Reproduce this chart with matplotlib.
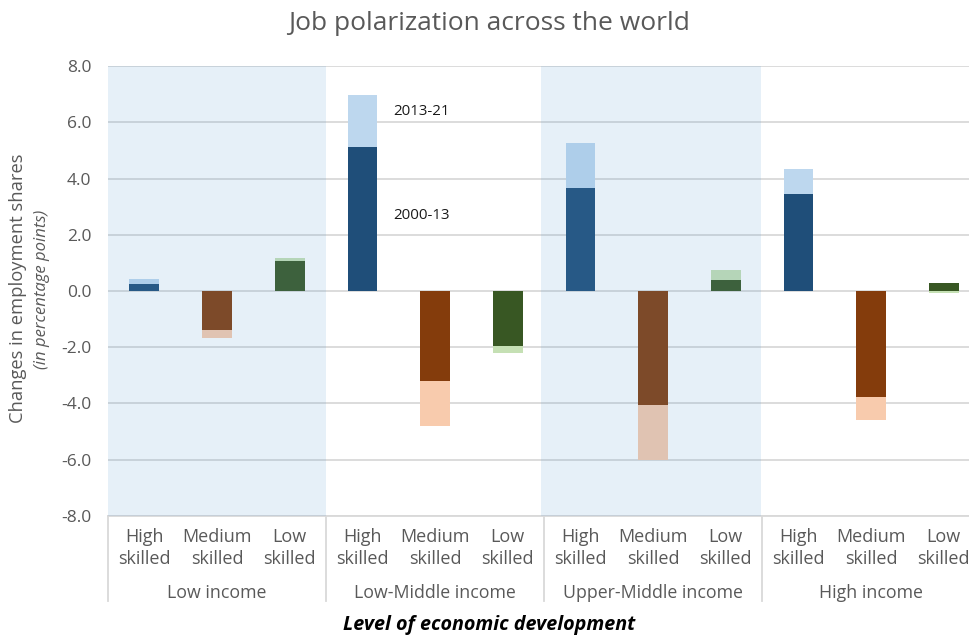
import matplotlib

matplotlib.use("Agg")
import matplotlib.pyplot as plt
from matplotlib.transforms import blended_transform_factory

plt.rcParams["font.family"] = ["Open Sans", "DejaVu Sans"]

skills = ["High\nskilled", "Medium\nskilled", "Low\nskilled"]
groups = ["Low income", "Low-Middle income", "Upper-Middle income", "High income"]
# percentage point changes, one value per (group, skill)
change_2000_13 = [0.25, -1.40, 1.07, 5.12, -3.20, -1.96, 3.66, -4.05, 0.39, 3.45, -3.77, 0.30]
change_2013_21 = [0.18, -0.27, 0.10, 1.85, -1.60, -0.23, 1.60, -1.95, 0.36, 0.89, -0.82, -0.07]
y_ticks = [-8, -6, -4, -2, 0, 2, 4, 6, 8]

dark_colors = ["#1F4E79", "#843C0C", "#385723"]
light_colors = ["#BDD7EE", "#F8CBAD", "#C5E0B4"]
text_gray = "#595959"
grid_gray = "#D9D9D9"

fig = plt.figure(figsize=(9.69, 6.36), dpi=100)
# plot area runs a little past the right edge of the picture, as in the source
ax = fig.add_axes([0.1115, 0.1887, 0.900, 0.7075])

n_cat = len(groups) * len(skills)
x_pos = list(range(n_cat))
for idx in x_pos:
    skill = idx % len(skills)
    dark = change_2000_13[idx]
    light = change_2013_21[idx]
    ax.bar(idx, dark, width=0.41, color=dark_colors[skill], zorder=2)
    bottom = dark if (dark >= 0) == (light >= 0) else 0
    ax.bar(idx, light, width=0.41, bottom=bottom, color=light_colors[skill], zorder=2)

# shaded income groups (drawn over bars, like a translucent overlay)
for g_idx in (0, 2):
    ax.axvspan(g_idx * 3 - 0.5 - 0.02 * g_idx, g_idx * 3 + 2.5 - 0.01 * g_idx,
               color="#5B9BD5", alpha=0.15, lw=0, zorder=3)

ax.set_xlim(-0.5, n_cat - 0.5)
ax.set_ylim(-8, 8)
ax.set_yticks(y_ticks)
ax.set_yticklabels([f"{v:.1f}" for v in y_ticks], fontsize=12.5, color=text_gray)
ax.tick_params(axis="y", length=0, pad=12)
ax.set_xticks([])
ax.grid(axis="y", color=grid_gray, linewidth=1.3, zorder=1)
ax.set_axisbelow(True)
for side in ("top", "right", "left"):
    ax.spines[side].set_visible(False)
ax.spines["bottom"].set_color(grid_gray)
ax.spines["bottom"].set_linewidth(1.3)

trans = blended_transform_factory(ax.transData, ax.transAxes)
for idx in x_pos:
    ax.text(idx, -0.026, skills[idx % len(skills)], transform=trans, ha="center",
            va="top", fontsize=13, color=text_gray, linespacing=1.3)
for g_idx, name in enumerate(groups):
    ax.text(g_idx * 3 + 1, -0.151, name, transform=trans, ha="center", va="top",
            fontsize=12.8, color=text_gray)
for g_idx in range(len(groups) + 1):
    ax.plot([g_idx * 3 - 0.5] * 2, [0, -0.188], transform=trans, color=grid_gray,
            lw=1.3, clip_on=False)

ax.text(3.42, 6.4, "2013-21", fontsize=10.8, color="#1a1a1a", va="center", zorder=4)
ax.text(3.42, 2.7, "2000-13", fontsize=10.8, color="#1a1a1a", va="center", zorder=4)

fig.text(0.505, 0.963, "Job polarization across the world", ha="center", va="center",
         fontsize=19, color=text_gray)
fig.text(0.505, 0.017, "Level of economic development", ha="center", va="center",
         fontsize=14.2, fontweight="bold", fontstyle="italic", color="#000000")
fig.text(0.019, 0.547, "Changes in employment shares", rotation=90, ha="center",
         va="center", fontsize=13.2, color=text_gray)
fig.text(0.043, 0.545, "(in percentage points)", rotation=90, ha="center",
         va="center", fontsize=12, fontstyle="italic", color=text_gray)

fig.savefig("out.png", dpi=100)
